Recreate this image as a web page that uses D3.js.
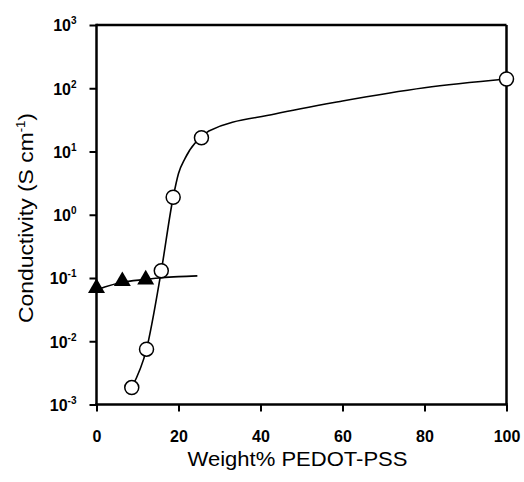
<!DOCTYPE html>
<html><head><meta charset="utf-8">
<script src="https://cdn.jsdelivr.net/npm/d3@7"></script>
<style>body{margin:0;background:#fff} svg{display:block}</style>
</head><body><svg id="c" width="524" height="482"></svg>
<script>
const circleX = [8.6, 12.2, 15.8, 18.7, 25.6, 100];
const circleY = [0.00185, 0.0075, 0.13, 1.89, 16.5, 140];
const triangleX = [0, 6.3, 12.0];
const triangleY = [0.0695, 0.089, 0.0946];
const circleFitX = [8.6, 12.2, 15.8, 18.7, 20, 21.6, 24, 25.6, 27.4, 43.5, 60, 80, 100];
const circleFitY = [0.00185, 0.0075, 0.13, 1.89, 4.5, 7.8, 13.5, 16.5, 21.1, 39.2, 63, 102, 140];
const triangleFitX = [0, 2, 6, 12, 16, 20, 24.6];
const triangleFitY = [0.065, 0.072, 0.085, 0.095, 0.101, 0.105, 0.108];
const xTicks = [0, 20, 40, 60, 80, 100];
const yTickExp = ["-3", "-2", "-1", "0", "1", "2", "3"];
const xTitle = "Weight% PEDOT-PSS";
const yTitle = "Conductivity (S cm";
const yTitleSup = "-1";

const svg = d3.select("#c");
const L = 96.5, R = 506.5, T = 25, B = 404.5;
const x = d3.scaleLinear().domain([0, 100]).range([L, R]);
const y = d3.scaleLog().domain([1e-3, 1e3]).range([B, T]);
const font = "'Liberation Sans', Arial, sans-serif";

// frame top/right
svg.append("line").attr("x1", L).attr("x2", R).attr("y1", T).attr("y2", T)
  .attr("stroke", "#000").attr("stroke-width", 2.5);
svg.append("line").attr("x1", R).attr("x2", R).attr("y1", T).attr("y2", B)
  .attr("stroke", "#000").attr("stroke-width", 2.5);

// x axis
const gx = svg.append("g").attr("transform", `translate(0,${B})`)
  .call(d3.axisBottom(x).tickValues(xTicks).tickSize(7).tickSizeOuter(0).tickPadding(19));
gx.select(".domain").attr("stroke-width", 2.5).attr("d", `M${L - 1.25},0H${R + 1.25}`);
gx.selectAll(".tick line").attr("stroke-width", 2);
gx.selectAll(".tick text").attr("font-family", font).attr("font-weight", "bold")
  .attr("font-size", 16).attr("fill", "#000");

// y axis
const yVals = yTickExp.map(e => Math.pow(10, +e));
const gy = svg.append("g").attr("transform", `translate(${L},0)`)
  .call(d3.axisLeft(y).tickValues(yVals).tickSize(7).tickSizeOuter(0).tickFormat(""));
gy.select(".domain").attr("stroke-width", 2.5).attr("d", `M0,${T - 1.25}V${B + 1.25}`);
gy.selectAll(".tick line").attr("stroke-width", 2);
gy.selectAll(".tick").each(function (d, i) {
  const t = d3.select(this).select("text");
  t.attr("x", -20).attr("dy", "0.36em").attr("text-anchor", "end")
    .attr("font-family", font).attr("font-weight", "bold").attr("font-size", 16).attr("fill", "#000");
  t.append("tspan").text("10");
  t.append("tspan").attr("font-size", 10).attr("dy", -7).text(yTickExp[i]);
});

// titles
svg.append("text").attr("x", (L + R) / 2 - 4).attr("y", 465.5).attr("text-anchor", "middle")
  .attr("font-family", font).attr("font-size", 20).attr("fill", "#000")
  .attr("textLength", 220).attr("lengthAdjust", "spacingAndGlyphs").text(xTitle);
const yt = svg.append("text").attr("transform", "translate(33,218) rotate(-90)")
  .attr("text-anchor", "middle").attr("font-family", font).attr("font-size", 21).attr("fill", "#000")
  .attr("textLength", 210).attr("lengthAdjust", "spacingAndGlyphs");
yt.append("tspan").text(yTitle);
yt.append("tspan").attr("font-size", 12).attr("dy", -8).text(yTitleSup);
yt.append("tspan").attr("dy", 8).text(")");

// fit lines
const line = d3.line().x(d => x(d[0])).y(d => y(d[1])).curve(d3.curveMonotoneX);
svg.append("path").datum(d3.zip(circleFitX, circleFitY)).attr("d", line)
  .attr("fill", "none").attr("stroke", "#000").attr("stroke-width", 1.6);
svg.append("path").datum(d3.zip(triangleFitX, triangleFitY)).attr("d", line)
  .attr("fill", "none").attr("stroke", "#000").attr("stroke-width", 1.6);

// markers
svg.append("g").selectAll("path").data(d3.zip(triangleX, triangleY)).join("path")
  .attr("transform", d => `translate(${x(d[0])},${y(d[1])})`)
  .attr("d", d3.symbol(d3.symbolTriangle, 125)).attr("fill", "#000");
svg.append("g").selectAll("circle").data(d3.zip(circleX, circleY)).join("circle")
  .attr("cx", d => x(d[0])).attr("cy", d => y(d[1])).attr("r", 7)
  .attr("fill", "#fff").attr("stroke", "#000").attr("stroke-width", 1.5);
</script></body></html>
